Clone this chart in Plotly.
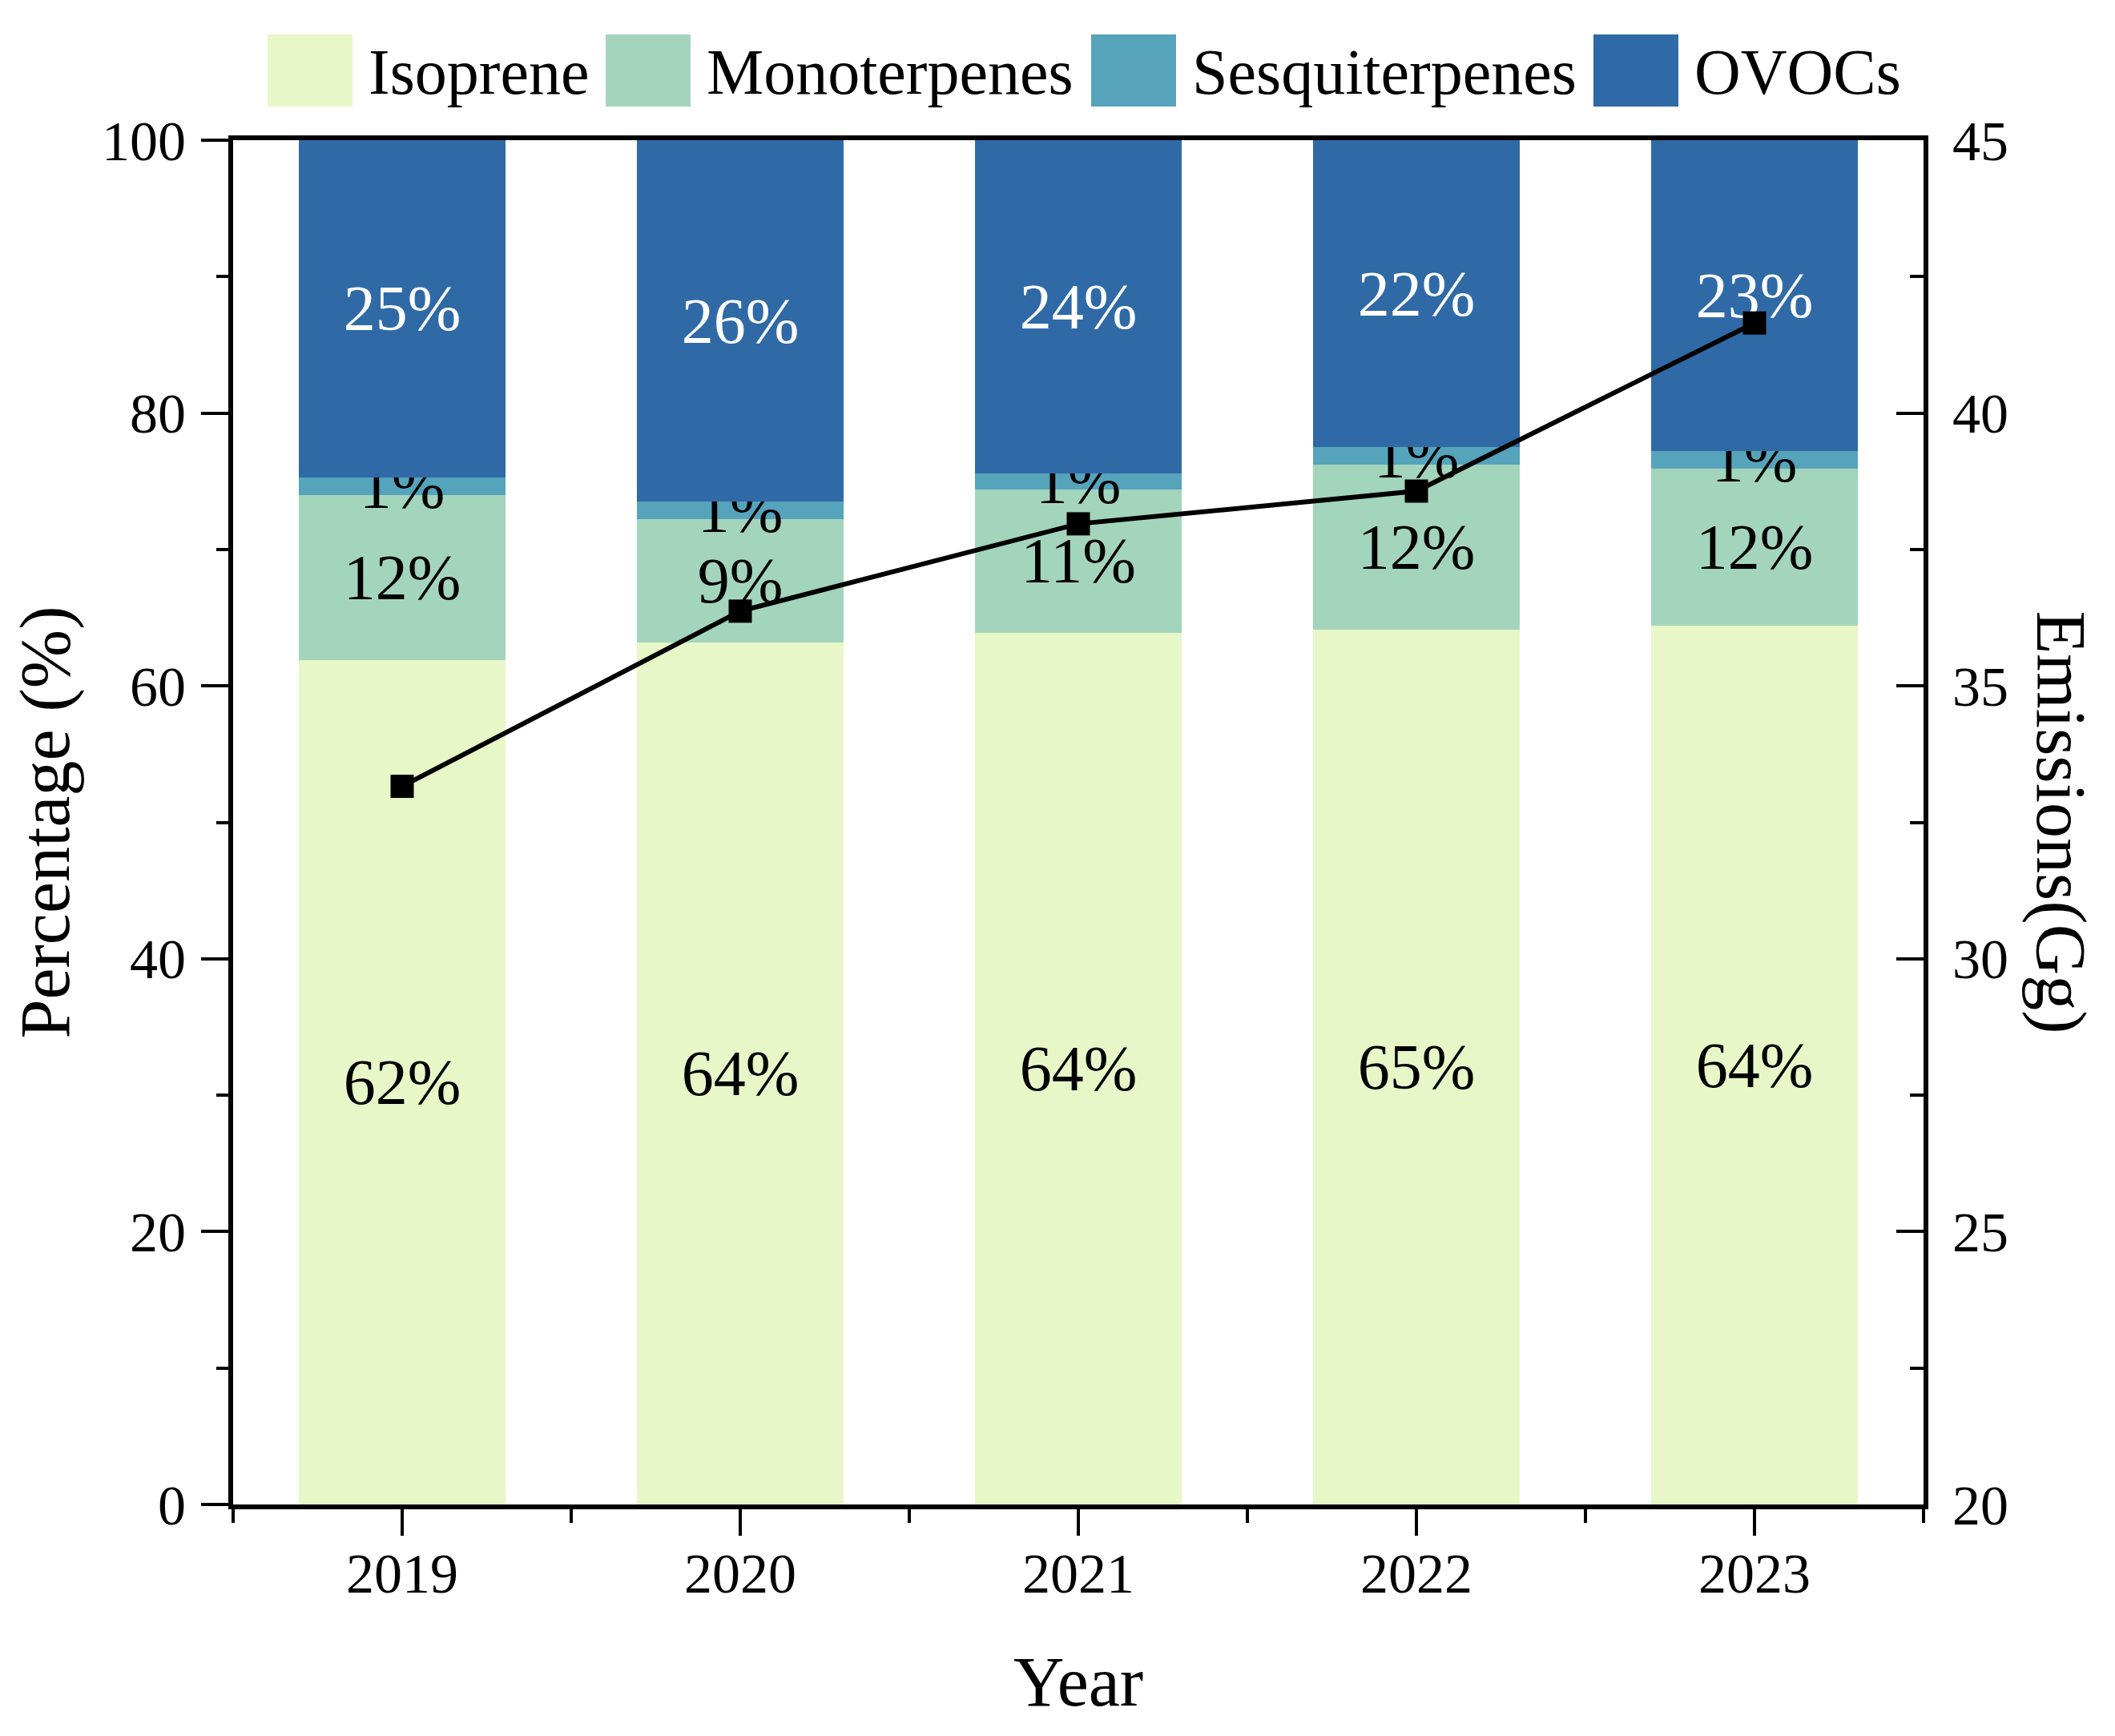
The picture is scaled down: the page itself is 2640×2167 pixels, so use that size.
import plotly.graph_objects as go

# data
years = ["2019", "2020", "2021", "2022", "2023"]
isoprene = [61.9, 63.2, 63.9, 64.1, 64.4]
monoterpenes = [12.1, 9.0, 10.5, 12.1, 11.5]
sesquiterpenes = [1.3, 1.3, 1.2, 1.3, 1.3]
ovocs = [24.7, 26.5, 24.4, 22.5, 22.8]
emissions = [33.16, 36.37, 37.97, 38.57, 41.65]

isoprene_lbl = ["62%", "64%", "64%", "65%", "64%"]
mono_lbl = ["12%", "9%", "11%", "12%", "12%"]
sesq_lbl = ["1%", "1%", "1%", "1%", "1%"]
ovoc_lbl = ["25%", "26%", "24%", "22%", "23%"]

names = ["Isoprene", "Monoterpenes", "Sesquiterpenes", "OVOCs"]
colors = ["#E7F7C8", "#A3D5BD", "#56A3BC", "#2F6AA6"]

FONT = "Liberation Serif, Times New Roman, serif"
OFF = 8  # page body margin
W, H = 2640 - OFF, 2167 - OFF
PLOT_W, PLOT_H = 2110, 1703
L, T = 291 - OFF, 175 - OFF
R, B = W - L - PLOT_W, H - T - PLOT_H


def px_x(px):
    return (px - OFF - L) / PLOT_W


def px_y(py):
    return (T + PLOT_H - (py - OFF)) / PLOT_H


x = list(range(len(years)))

fig = go.Figure()
series = [(isoprene, isoprene_lbl), (monoterpenes, mono_lbl),
          (sesquiterpenes, sesq_lbl), (ovocs, ovoc_lbl)]
for i, (vals, lbl) in enumerate(series):
    fig.add_trace(go.Bar(
        x=x, y=vals, name=names[i], width=0.61,
        marker=dict(color=colors[i], line=dict(width=0)),
        text=lbl, textposition="inside", insidetextanchor="middle",
        textangle=0,
        textfont=dict(family=FONT, size=80,
                      color="white" if names[i] == "OVOCs" else "black"),
        showlegend=False, hoverinfo="skip",
    ))

fig.add_trace(go.Scatter(
    x=x, y=emissions, yaxis="y2", mode="lines+markers",
    line=dict(color="black", width=6),
    marker=dict(symbol="square", size=29, color="black"),
    showlegend=False,
))

# legend drawn by hand so the swatches can be large
leg_px = [334, 756, 1362, 1989]   # left edge of each swatch (image px)
sw_w, sw_top, sw_bot = 106, 43, 133
shapes = []
annotations = []
for i, nm in enumerate(names):
    shapes.append(dict(type="rect", xref="paper", yref="paper",
                       x0=px_x(leg_px[i]), x1=px_x(leg_px[i] + sw_w),
                       y0=px_y(sw_bot), y1=px_y(sw_top),
                       fillcolor=colors[i], line=dict(width=0)))
    annotations.append(dict(xref="paper", yref="paper",
                            x=px_x(leg_px[i] + sw_w + 18), y=px_y(90),
                            xanchor="left", yanchor="middle", showarrow=False,
                            text=nm, font=dict(family=FONT, size=80, color="black")))

annotations.append(dict(xref="paper", yref="paper",
                        x=px_x(2572), y=0.5, textangle=90,
                        xanchor="center", yanchor="middle", showarrow=False,
                        text="Emissions(Gg)",
                        font=dict(family=FONT, size=88, color="black")))

fig.update_layout(
    width=W, height=H,
    margin=dict(l=L, r=R, t=T, b=B, pad=0),
    barmode="stack",
    plot_bgcolor="white", paper_bgcolor="white",
    font=dict(family=FONT, color="black"),
    uniformtext=dict(mode="show", minsize=80),
    shapes=shapes, annotations=annotations,
    xaxis=dict(
        range=[-0.5, len(years) - 0.5], tickvals=x, ticktext=years,
        showline=True, linecolor="black", linewidth=6, mirror=True,
        ticks="outside", ticklen=33, tickwidth=4, tickcolor="black",
        minor=dict(ticks="outside", ticklen=17, tickwidth=4, tickcolor="black",
                   tick0=-0.5, dtick=1),
        tickfont=dict(family=FONT, size=70), ticklabelstandoff=-13,
        showgrid=False, zeroline=False, automargin=False,
        title=dict(text="Year", font=dict(family=FONT, size=88), standoff=67),
    ),
    yaxis=dict(
        range=[0, 100], dtick=20,
        showline=True, linecolor="black", linewidth=6,
        ticks="outside", ticklen=34, tickwidth=4, tickcolor="black",
        minor=dict(ticks="outside", ticklen=15, tickwidth=4, tickcolor="black",
                   dtick=10),
        tickfont=dict(family=FONT, size=70), ticklabelstandoff=5,
        showgrid=False, zeroline=False, automargin=False,
        title=dict(text="Percentage (%)", font=dict(family=FONT, size=88), standoff=32),
    ),
    yaxis2=dict(
        range=[20, 45], dtick=5, overlaying="y", side="right",
        showline=True, linecolor="black", linewidth=6,
        ticks="inside", ticklen=34, tickwidth=4, tickcolor="black",
        minor=dict(ticks="inside", ticklen=17, tickwidth=4, tickcolor="black",
                   dtick=2.5),
        tickfont=dict(family=FONT, size=70), ticklabelstandoff=16,
        showgrid=False, zeroline=False, automargin=False,
    ),
)

fig.write_html("out.html")
